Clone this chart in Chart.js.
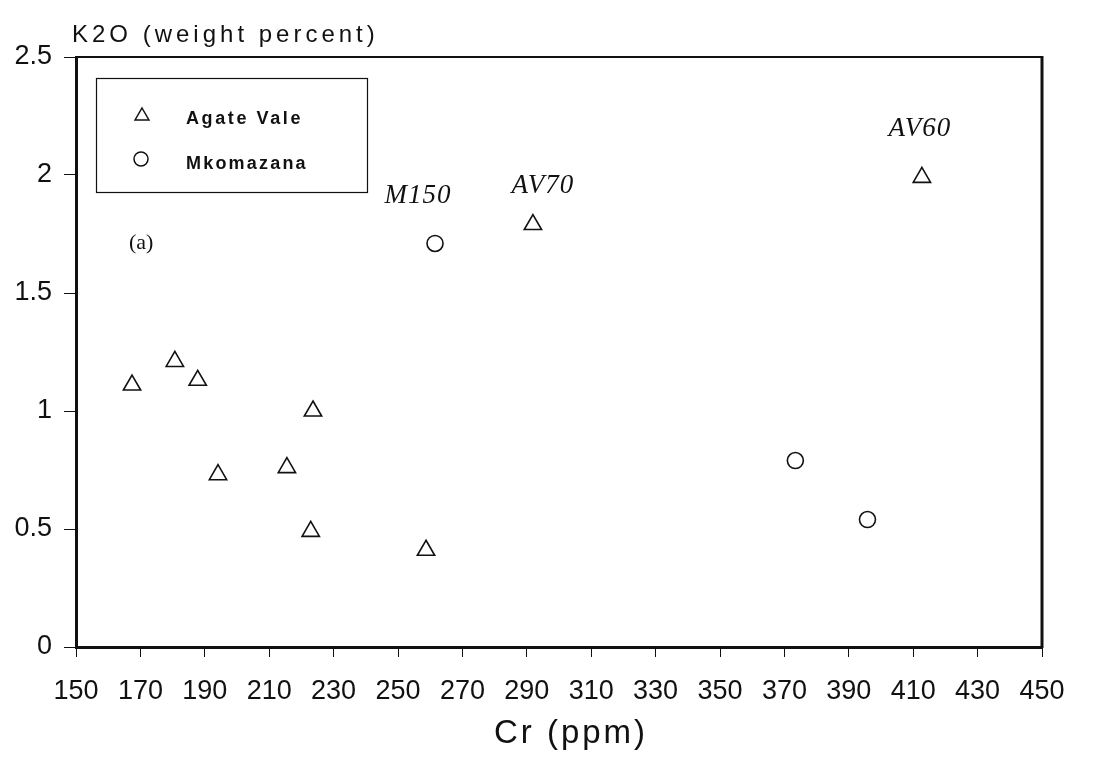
<!DOCTYPE html>
<html>
<head>
  <script src="https://cdn.jsdelivr.net/npm/chart.js"></script>
  <style>
    html, body { margin: 0; padding: 0; background: #fff; }
    #wrap { width: 1098px; height: 760px; }
  </style>
</head>
<body>
<div id="wrap"><canvas id="k2oChart" width="1098" height="760"></canvas></div>
<script>
// Cr (ppm) vs K2O (wt %)
const agateCr  = [167.4, 180.7, 187.8, 194.1, 215.5, 223.6, 222.9, 258.7, 291.9, 412.7];
const agateK2O = [1.11, 1.21, 1.13, 0.73, 0.76, 1.0, 0.49, 0.41, 1.79, 1.99];
const mkomCr   = [261.5, 373.4, 395.8];
const mkomK2O  = [1.71, 0.79, 0.54];

// sample names shown next to some points: [series, index, name]
const sampleNames = [["mkom", 0, "M150"], ["agate", 8, "AV70"], ["agate", 9, "AV60"]];

const seriesNames = ["Agate Vale", "Mkomazana"];
const xTitle = "Cr (ppm)";
const yTitle = "K2O (weight percent)";

const toPoints = (xs, ys) => xs.map((x, i) => ({ x: x, y: ys[i] }));

const ink = "#111";
const sans = "'Liberation Sans', Arial, sans-serif";
const serif = "'Liberation Serif', 'Times New Roman', serif";

// where each sample name sits relative to its point (px)
const nameOffsets = { M150: [-17, -40], AV70: [10, -32], AV60: [-2, -41] };

const framePlugin = {
  id: "frame",
  afterDraw(chart) {
    const ctx = chart.ctx;
    const a = chart.chartArea;
    const xs = chart.scales.x, ys = chart.scales.y;
    ctx.save();
    ctx.strokeStyle = ink;

    // top and right sides of the box
    ctx.lineWidth = 2;
    ctx.beginPath();
    ctx.moveTo(a.left, a.top);
    ctx.lineTo(a.right, a.top);
    ctx.stroke();
    ctx.lineWidth = 3;
    ctx.beginPath();
    ctx.moveTo(a.right, a.top - 1);
    ctx.lineTo(a.right, a.bottom + 1);
    ctx.stroke();

    // axis titles
    ctx.fillStyle = ink;
    ctx.textBaseline = "alphabetic";
    ctx.textAlign = "left";
    ctx.font = "24px " + sans;
    ctx.letterSpacing = "4px";
    ctx.fillText(yTitle, 72, 42);
    ctx.textAlign = "center";
    ctx.font = "33px " + sans;
    ctx.letterSpacing = "3px";
    ctx.fillText(xTitle, 571, 743);

    // legend box
    ctx.letterSpacing = "0px";
    ctx.lineWidth = 1.2;
    ctx.strokeRect(96.5, 78.5, 271, 114);
    ctx.lineWidth = 1.5;
    const tri = (cx, cy, r) => {
      ctx.beginPath();
      ctx.moveTo(cx, cy - r);
      ctx.lineTo(cx + r * 0.866, cy + r / 2);
      ctx.lineTo(cx - r * 0.866, cy + r / 2);
      ctx.closePath();
      ctx.stroke();
    };
    tri(142, 116, 8);
    ctx.beginPath();
    ctx.arc(141, 159, 7, 0, Math.PI * 2);
    ctx.stroke();
    ctx.textAlign = "left";
    ctx.font = "bold 18px " + sans;
    ctx.letterSpacing = "2.6px";
    ctx.fillText(seriesNames[0], 186, 124);
    ctx.letterSpacing = "2.2px";
    ctx.fillText(seriesNames[1], 186, 169);

    // panel letter
    ctx.letterSpacing = "0px";
    ctx.font = "22px " + serif;
    ctx.fillText("(a)", 129, 249);

    // sample names
    ctx.font = "italic 27px " + serif;
    ctx.letterSpacing = "1px";
    ctx.textAlign = "center";
    sampleNames.forEach(([s, i, name]) => {
      const px = s === "agate" ? xs.getPixelForValue(agateCr[i]) : xs.getPixelForValue(mkomCr[i]);
      const py = s === "agate" ? ys.getPixelForValue(agateK2O[i]) : ys.getPixelForValue(mkomK2O[i]);
      const off = nameOffsets[name];
      ctx.fillText(name, px + off[0], py + off[1]);
    });
    ctx.restore();
  }
};

new Chart(document.getElementById("k2oChart"), {
  type: "scatter",
  data: {
    datasets: [
      {
        label: seriesNames[0],
        data: toPoints(agateCr, agateK2O),
        pointStyle: "triangle",
        pointRadius: 10,
        pointHoverRadius: 10,
        borderColor: ink,
        backgroundColor: "rgba(255,255,255,0)",
        borderWidth: 1.6
      },
      {
        label: seriesNames[1],
        data: toPoints(mkomCr, mkomK2O),
        pointStyle: "circle",
        pointRadius: 8,
        pointHoverRadius: 8,
        borderColor: ink,
        backgroundColor: "rgba(255,255,255,0)",
        borderWidth: 1.6
      }
    ]
  },
  options: {
    responsive: false,
    animation: false,
    events: [],
    layout: { padding: { top: 57, right: 56, left: 0, bottom: 0 } },
    plugins: {
      legend: { display: false },
      tooltip: { enabled: false }
    },
    scales: {
      x: {
        type: "linear",
        min: 150,
        max: 450,
        afterFit: (s) => { s.height = 113; },
        border: { color: ink, width: 3 },
        grid: { drawOnChartArea: false, drawTicks: true, tickLength: 10, color: ink, lineWidth: 1 },
        ticks: {
          stepSize: 20,
          autoSkip: false,
          maxRotation: 0,
          padding: 18,
          color: ink,
          font: { family: sans, size: 27 }
        }
      },
      y: {
        min: 0,
        max: 2.5,
        afterFit: (s) => { s.width = 76; },
        border: { color: ink, width: 3 },
        grid: { drawOnChartArea: false, drawTicks: true, tickLength: 12, color: ink, lineWidth: 1 },
        ticks: {
          stepSize: 0.5,
          padding: 12,
          color: ink,
          font: { family: sans, size: 27 },
          callback: (v) => String(v)
        }
      }
    }
  },
  plugins: [framePlugin]
});
</script>
</body>
</html>
